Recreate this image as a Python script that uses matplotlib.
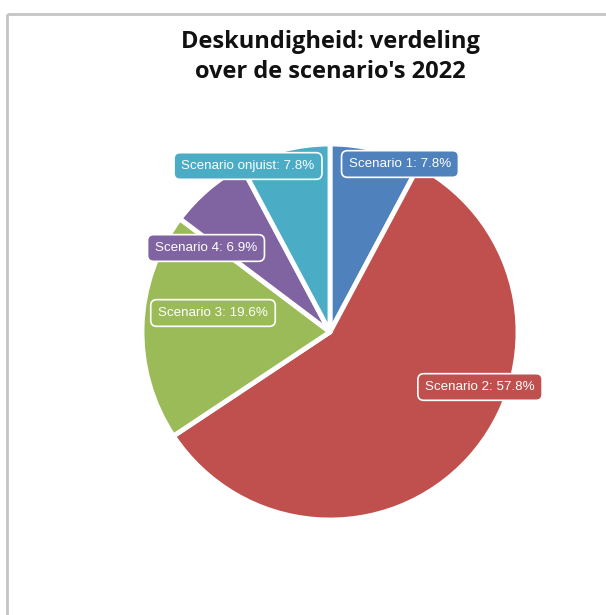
import matplotlib
matplotlib.use('Agg')
import matplotlib.pyplot as plt

# gegevens
scenarios = ['Scenario 1', 'Scenario 2', 'Scenario 3', 'Scenario 4', 'Scenario onjuist']
percentages = [7.8, 57.8, 19.6, 6.9, 7.8]
colors = ['#4f81bd', '#c0504d', '#9bbb59', '#8064a2', '#4bacc6']
title = "Deskundigheid: verdeling\nover de scenario's 2022"

W, H = 606, 615
fig = plt.figure(figsize=(W / 100, H / 100), dpi=100)
ax = fig.add_axes([0, 0, 1, 1])
ax.axis('off')

# kader (alleen boven en links zichtbaar)
ax.plot([7, W], [H - 14, H - 14], color='#c4c4c4', lw=2, solid_capstyle='butt')
ax.plot([7, 7], [H - 14, 0], color='#c4c4c4', lw=2, solid_capstyle='butt')

cx, cy, r = 330, H - 332, 188
ax.pie(percentages, colors=colors, startangle=90, counterclock=False,
       center=(cx, cy), radius=r,
       wedgeprops=dict(edgecolor='white', linewidth=3.5, joinstyle='round'))

# labelposities relatief t.o.v. het middelpunt (in pixels)
label_offsets = [(70, 168), (150, -55), (-117, 19), (-124, 84), (-82, 166)]
for name, pct, col, (dx, dy) in zip(scenarios, percentages, colors, label_offsets):
    ax.text(cx + dx, cy + dy, f'{name}: {pct}%', fontsize=9.6, color='white',
            family='Liberation Sans', ha='center', va='center',
            bbox=dict(boxstyle='round,pad=0.55,rounding_size=0.45',
                      facecolor=col, edgecolor='white', linewidth=1.2))

ax.text(330, H - 57, title, fontsize=17, fontweight='bold', family='Open Sans',
        ha='center', va='center', linespacing=1.35, color='#111111')

# pie() zet de grenzen opnieuw, dus hier pas vastzetten
ax.set_xlim(0, W)
ax.set_ylim(0, H)
ax.set_aspect('equal')
fig.savefig('out.png', dpi=100)
